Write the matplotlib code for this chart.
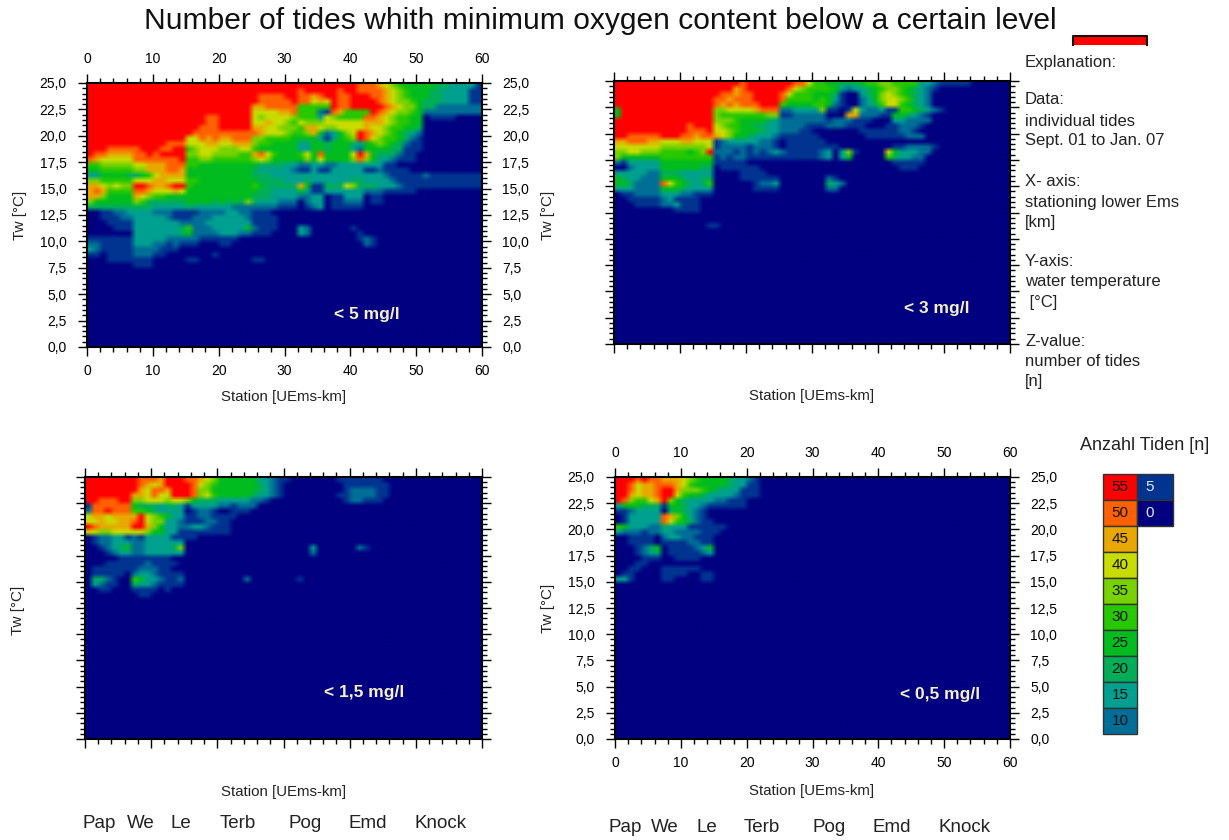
import numpy as np
import matplotlib
matplotlib.use("Agg")
import matplotlib.pyplot as plt
from matplotlib.colors import ListedColormap, BoundaryNorm
from matplotlib.patches import Rectangle

plt.rcParams["font.family"] = ["Liberation Sans", "DejaVu Sans"]
plt.rcParams["font.size"] = 10

W, H = 1229, 840

title = "Number of tides whith minimum oxygen content below a certain level"
xticks = [0, 10, 20, 30, 40, 50, 60]
yticks = [0, 2.5, 5, 7.5, 10, 12.5, 15, 17.5, 20, 22.5, 25]
yticklabels = ["0,0", "2,5", "5,0", "7,5", "10,0", "12,5", "15,0", "17,5", "20,0", "22,5", "25,0"]
stations = ["Pap", "We", "Le", "Terb", "Pog", "Emd", "Knock"]

# Klassen der Anzahl Tiden
class_values = [0, 5, 10, 15, 20, 25, 30, 35, 40, 45, 50, 55]
class_colors = ["#000080", "#003490", "#006e96", "#00a090", "#00ae5a", "#00bc1e",
                "#28c800", "#78d200", "#c8dc00", "#e8a800", "#ff6000", "#ff0000"]

# one character = one class (0-9, a, b), one column per km, rows from 25 deg C down in 0.5 steps
tides_5 = [
    "bbbbbbbbbb bbbbbbbbbb bbbbbbbbbb bbbbbbbbbb baaa987655 5554433331",
    "bbbbbbbbbb bbbbbbbbbb bbbbbbbbbb bbabbbbbab baaaa98765 5544333311",
    "bbbbbbbbbb bbbbbbbbbb bbbbbbaaaa bbaa9abbaa bbbaa98765 5544333311",
    "bbbbbbbbbb bbbbbbbbbb bbbbbbaaaa abaa898baa bbbba98776 5444333311",
    "bbbbbbbbbb bbbbbbbbbb bbbbb99aaa aa66666baa bbbbba9877 5442222222",
    "bbbbbbbbbb bbbbbbbbbb bbbbb88889 9a66621a96 666ba98776 5222222222",
    "bbbbbbbbbb bbbbbbbbaa bbbbb87888 8766638766 66aa987665 5011110000",
    "bbbbbbbbbb bbbbbbbbaa bbbbb88988 7687778888 8899987665 5",
    "bbbbbbbbbb bbbbbbbaaa bbbbb99887 7769987788 8898876655 4",
    "bbbbbbbbbb bbbbbbaaaa aaaaaa9888 7667952357 8ba9876543 2",
    "bbbbbbbbbb bbbbb88a9a 99aaa77666 6555531356 7ba8766542 1",
    "bbbbbbbbbb bbaaa88899 8899976655 5533554555 4356765421 1",
    "bbbaaaaabb baabb67888 7778865555 5533554555 3255554411 1",
    "baa9999aab abbbb77887 777669a865 55685a5555 8b95444211",
    "a988888aaa aaaab66776 6666678755 5557585555 7a75332111",
    "6677777889 99aaa66555 5555554444 3322332233 3333311000",
    "5566666779 99aa955555 5555543333 3211311333 3311211110",
    "3355554456 8999955555 5555544433 3333333333 3333321111 1211111111",
    "7766666888 9988866555 5555554444 3334333333 4433332111 1111111111",
    "9987877bba 99abb65555 5555565444 4495114448 7444333211 1111111111",
    "9a96666aa9 8889855555 5555554433 3353113333 3322211111",
    "9975555987 6655555555 5555544433 3322330113 3301100000",
    "7555555764 4444455554 5454743332 2202330112 2201100000",
    "4444444444 3333343333 3322222221 1101230111 11",
    "0011223333 2221111222 2332211100",
    "0011122333 3321112223 3333211110",
    "0001111333 3333222233 3333311110",
    "0000111333 3333462223 3333521110 0032000000 1",
    "0000000333 3333452222 3332211100 0032000000 01",
    "1111111333 3322222111 1110000000 0000000000 0121",
    "2211111333 2212111000 1100000000 0000000000 0021",
    "3211111222 2111000000",
    "1101111222 1100000001",
    "0001111111 0000011000 0000011000",
    "0000000111",
]
tides_3 = [
    "bbbbbbbbbb bbbbbbbbba bbbbbbbaa8 6655444566 7766663321 1111",
    "bbbbbbbbbb bbbbbbbb9a bbbbbba876 6665323345 6776543210",
    "bbbbbbbbbb bbbbbbaa9a abbbba8666 5554100345 7876543200",
    "bbbbbbbbbb bbbbbaa9aa abbbba6666 5653100235 7887643200",
    "bbbbbbbbbb bbbbba9a9a aabbb65555 6652100234 6886543200",
    "5bbbbbbbbb bbbbb77888 89aaa22333 3711018322 3116654321",
    "5bbbbbbbbb bbbbb76666 6667711222 2200099222 1155432100",
    "bbbbbbbbbb bbbbb77765 5554322222 2212221110 0033222200",
    "bbbbbbbbbb babbb87665 5443322221 1122211100 0112221000",
    "bbbbbbbbbb baaab88765 5543322211 0000000111 1112210000",
    "bbaaaaabbb aa9aa98755 4333211111 1000000011 1111222000",
    "99aaa99888 9988812333 3322101111 1100000000",
    "8888888777 7777812222 1222101111 1111000000 0011222210",
    "7788777666 6567b22212 1212321111 1230371000 0853332200",
    "7555555666 6666612122 1111111111 1230350000 0643322000",
    "2133333555 5555511111 0000000000 0000000000 0011111000",
    "0023333555 5554401111 1100000000 0000000000 0001110000",
    "3333322444 3333300001 1110000000",
    "5433222555 4334400001 1111100000 0021",
    "5542222a86 5434600000 0122300000 00432",
    "3332222555 4333300000 0111100000 0022",
    "0112222333 2211100000",
    "0011111231 1110",
    "0001111223 1110",
    "0000000001 111",
    "",
    "",
    "0000000000 0000110000",
]
tides_15 = [
    "bbbbbbbbaa a9bbbaa987 5555553321 1000000011 11111",
    "bbbbbbbba9 89bbbba876 5555554321 0000000001 111111",
    "bbbbbbbb98 aa9bbba775 5555554321 0000000001 222211",
    "bbbbbbb998 a88bbba786 5555543321 0000000011 222211",
    "bbaaabb778 8878875444 3333322100 0000000001 22111",
    "1aaaaaa544 4344313333 2212220000",
    "2aabaaa665 4333301221 0011100000",
    "89989999b8 7653311221 1110000000",
    "8898899ab8 7733211122 1100000000",
    "ba99999bb9 7533223321 1100000000",
    "8877888887 5533111111 1100000000",
    "0122331213 3331111000",
    "0122333223 3333300000",
    "0012345223 3334700000 0000000000 0000300000 021",
    "0001233223 3333300000 0000000000 0000200000",
    "0000011111 1110",
    "0001111112 1111",
    "0111111122 2110",
    "0111110233 2111100000",
    "0442100653 3211200000 0000200000 001",
    "0321100433 2111100000",
    "0011000111 1010",
    "0000000011",
]
tides_05 = [
    "bbbabaa999 8765555433 21",
    "bba899aaa9 8655555433 11",
    "bba899abb9 7776543331 11",
    "bb9899abb8 6554333321 110",
    "ba76689b75 4333322111 0",
    "3555444155 4332111111",
    "1123333045 4321",
    "0133333a97 5321",
    "0133333a86 54211",
    "6533322433 3111111",
    "3222122332 222111",
    "0011110233 22111",
    "0011110111 12211",
    "0001245011 11235",
    "0001234011 11123",
    "0000111001 111",
    "00011",
    "0011000111 111",
    "0110000111 10011",
    "3310000110 00011",
]


def to_grid(rows):
    # strings to tide counts, filled up with 0 to 60 x 50
    grid = np.zeros((50, 60))
    for i, row in enumerate(rows):
        row = row.replace(" ", "")[:60]
        for j, c in enumerate(row):
            grid[i, j] = class_values[int(c, 16)]
    return grid


fig = plt.figure(figsize=(W / 100, H / 100), dpi=100)


def fig_text(x, y, s, **kw):
    kw.setdefault("ha", "left")
    kw.setdefault("va", "center")
    fig.text(x / W, 1 - y / H, s, **kw)


cmap = ListedColormap(class_colors)
norm = BoundaryNorm(np.array(class_values + [60]) - 2.5, cmap.N)


def panel(rows, box, top_labels, side_labels):
    left, top, right, bottom = box
    ax = fig.add_axes([left / W, 1 - bottom / H, (right - left) / W, (bottom - top) / H])
    # rgb so the blur runs over the colours, as in the scanned original
    rgb = cmap(norm(to_grid(rows)))[:, :, :3]
    ax.imshow(rgb, extent=(0, 60, 0, 25), aspect="auto", interpolation="bilinear", origin="upper")
    ax.set_xlim(0, 60)
    ax.set_ylim(0, 25)
    ax.set_xticks(xticks)
    ax.set_xticks(np.arange(0, 61, 2), minor=True)
    ax.set_yticks(yticks)
    ax.set_yticks(np.arange(0, 25.1, 0.5), minor=True)
    ax.set_yticklabels(yticklabels)
    ax.tick_params(which="major", direction="out", length=6.5, width=1, top=True, right=True)
    ax.tick_params(which="minor", direction="out", length=3.5, width=1, top=True, right=True)
    ax.tick_params(axis="x", which="major", pad=6, labeltop=top_labels, labelbottom=side_labels or top_labels)
    ax.tick_params(axis="y", which="major", pad=8, labelleft=side_labels, labelright=side_labels)
    for s in ax.spines.values():
        s.set_linewidth(1.5)
    return ax


ax1 = panel(tides_5, (87, 83, 482, 347), True, True)
ax2 = panel(tides_3, (614, 81, 1010, 344), False, False)
ax3 = panel(tides_15, (85, 477, 482, 739), False, False)
ax4 = panel(tides_05, (615, 477, 1010, 739), True, True)

# Titel
fig_text(600, 21, title, ha="center", fontsize=21.6, color="#111111")

# rotes Kaestchen oben
fig.add_artist(Rectangle((1073 / W, 1 - 45 / H), 74 / W, 9 / H, transform=fig.transFigure,
                         facecolor="#ff0000", edgecolor="none"))
fig.add_artist(plt.Line2D(np.array([1073, 1073, 1147, 1147]) / W, 1 - np.array([45, 36, 36, 45]) / H,
                          color="#111111", lw=1.5, transform=fig.transFigure))

# Achsen
fig_text(284, 397, "Station [UEms-km]", ha="center", fontsize=10.8, color="#222222")
fig_text(812, 396, "Station [UEms-km]", ha="center", fontsize=10.8, color="#222222")
fig_text(284, 792, "Station [UEms-km]", ha="center", fontsize=10.8, color="#222222")
fig_text(812, 791, "Station [UEms-km]", ha="center", fontsize=10.8, color="#222222")
for x, y in [(20, 215), (548, 215), (18, 610), (548, 608)]:
    fig_text(x, y, "Tw [°C]", ha="center", rotation=90, fontsize=11, color="#222222")

for x, name in zip([82, 127, 171, 220, 288, 348, 414], stations):
    fig_text(x, 824, name, fontsize=13.5, color="#222222")
for x, name in zip([608, 651, 696, 744, 812, 872, 939], stations):
    fig_text(x, 828, name, fontsize=13.5, color="#222222")

# Beschriftung in den Feldern
for x, y, s in [(367, 315, "< 5 mg/l"), (937, 309, "< 3 mg/l"),
                (364, 693, "< 1,5 mg/l"), (940, 694, "< 0,5 mg/l")]:
    fig_text(x, y, s, ha="center", color="#f5f0c8", fontsize=12.5, fontweight="bold")

# Erklaerung
explanation = [(62, "Explanation:"), (100, "Data:"), (121, "individual tides"), (141, "Sept. 01 to Jan. 07"),
               (181, "X- axis:"), (202, "stationing lower Ems"), (222, "[km]"),
               (262, "Y-axis:"), (282, "water temperature"), (302, " [°C]"),
               (342, "Z-value:"), (362, "number of tides"), (382, "[n]")]
for y, s in explanation:
    fig_text(1025, y, s, fontsize=12, color="#222222")

# Legende
fig_text(1145, 445, "Anzahl Tiden [n]", ha="center", fontsize=13, color="#222222")
legend_rows = class_values[:1:-1]
box_h = 26
for i, v in enumerate(legend_rows):
    y = 474 + i * box_h
    fig.add_artist(Rectangle((1103 / W, 1 - (y + box_h) / H), 34 / W, box_h / H, transform=fig.transFigure,
                             facecolor=class_colors[class_values.index(v)], edgecolor="#333333", lw=1))
    fig_text(1120, y + 13, str(v), ha="center", fontsize=11, color="#111111")
for i, v in enumerate(class_values[1::-1]):
    y = 474 + i * box_h
    fig.add_artist(Rectangle((1137 / W, 1 - (y + box_h) / H), 36 / W, box_h / H, transform=fig.transFigure,
                             facecolor=class_colors[class_values.index(v)], edgecolor="#333333", lw=1))
    fig_text(1150, y + 13, str(v), ha="center", fontsize=11, color="#e8e8f0")

fig.savefig("out.png", dpi=100)
